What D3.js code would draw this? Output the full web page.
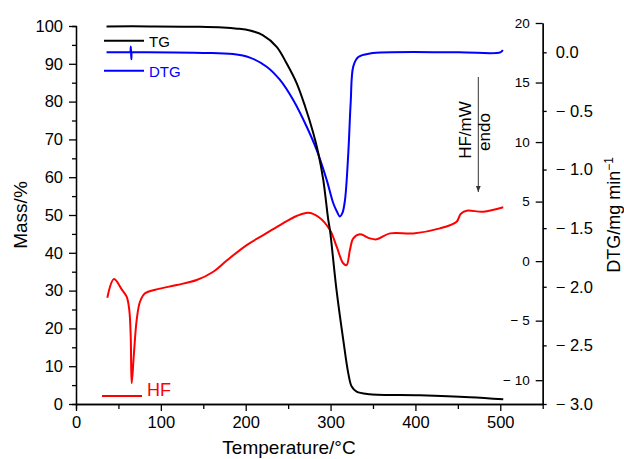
<!DOCTYPE html>
<html>
<head>
<meta charset="utf-8">
<script src="https://cdn.jsdelivr.net/npm/d3@7"></script>
<style>
  body { margin: 0; background: #fff; }
  svg { font-family: "Liberation Sans", Arial, sans-serif; }
  .axis path, .axis line { stroke: #000; stroke-width: 1.3px; }
  .curve { fill: none; stroke-width: 2px; stroke-linejoin: round; }
</style>
</head>
<body>
<script>
// TG (mass %) vs temperature
var tgTemp = [36, 87, 146, 173, 190, 205, 220, 236.5, 248, 260, 270, 279.6, 285.5, 291.4, 297.3, 299.3, 307, 315, 320.9, 324.9, 330.7, 346.4, 405, 464, 503.5];
var tgMass = [99.9, 99.9, 99.8, 99.6, 99.3, 98.8, 97.6, 94.5, 90.2, 84.9, 78.7, 71.7, 66.4, 59.3, 48.7, 46.0, 30.2, 16.9, 8.1, 4.6, 3.25, 2.6, 2.3, 1.8, 1.25];

// DTG (mg/min)
var dtgTemp = [36, 50, 63.5, 64, 64.6, 65.2, 65.8, 66.3, 80, 150, 185, 205, 224.7, 240.4, 256, 271.9, 283.7, 295.5, 303.3, 307.6, 311, 314, 317, 320.9, 323.7, 326.8, 332.7, 346.5, 450, 500, 503];
var dtgVal = [0.0, 0.0, 0.0, 0.0, 0.05, -0.06, 0.0, 0.0, 0.0, -0.005, -0.015, -0.045, -0.123, -0.236, -0.407, -0.635, -0.834, -1.09, -1.29, -1.36, -1.40, -1.37, -1.26, -0.86, -0.43, -0.12, -0.04, -0.01, 0.0, 0.0, 0.02];

// HF (mW)
var hfTemp = [36.9, 44.8, 53.9, 59.7, 62.8, 64.5, 65.6, 68.3, 71.5, 75.4, 81.3, 95.1, 118.7, 142.2, 161.8, 177.6, 201.2, 220.7, 240.4, 260, 273.7, 285.5, 299.3, 307.2, 314.9, 318.9, 322.8, 326.8, 334.6, 346.4, 354.3, 370, 397.5, 428.9, 448.6, 453.3, 460.4, 480, 503.5];
var hfVal = [-3.07, -1.5, -2.37, -2.99, -4.11, -6.35, -10.26, -7.74, -4.95, -3.41, -2.7, -2.37, -2.01, -1.59, -0.89, 0.05, 1.35, 2.19, 3.03, 3.79, 4.07, 3.73, 2.62, 1.21, -0.18, -0.33, 0.93, 1.91, 2.25, 1.91, 1.83, 2.33, 2.33, 2.75, 3.31, 3.96, 4.23, 4.15, 4.52];

var tempTicks = [0, 100, 200, 300, 400, 500];
var massTicks = [0, 10, 20, 30, 40, 50, 60, 70, 80, 90, 100];
var hfTicks = [-10, -5, 0, 5, 10, 15, 20];
var dtgTicks = [0.0, -0.5, -1.0, -1.5, -2.0, -2.5, -3.0];

var width = 624,
    height = 459;

var svg = d3.select("body")
    .append("svg")
    .attr("width", width)
    .attr("height", height);

var xScale = d3.scaleLinear().domain([0, 550]).range([76, 542.7]);
var yMass = d3.scaleLinear().domain([0, 100]).range([404, 26]);
var yHF = d3.scaleLinear().domain([-12, 20]).range([404, 23]);
var yDTG = d3.scaleLinear().domain([-3.0, 0.25]).range([404, 23]);

function minusFmt(d) {
    return d < 0 ? "\u2212 " + Math.abs(d) : String(d);
}

// bottom axis
svg.append("g")
    .attr("class", "axis")
    .attr("transform", "translate(0,404)")
    .call(d3.axisBottom(xScale).tickValues(d3.range(50, 550, 100)).tickSize(5).tickFormat(""));
svg.append("g")
    .attr("class", "axis")
    .attr("transform", "translate(0,404)")
    .call(d3.axisBottom(xScale).tickValues(tempTicks).tickSize(7).tickSizeOuter(0).tickPadding(5))
    .selectAll("text")
    .style("font-size", "16.5px");

// left axis
svg.append("g")
    .attr("class", "axis")
    .attr("transform", "translate(76,0)")
    .call(d3.axisLeft(yMass).tickValues(d3.range(5, 100, 10)).tickSize(4).tickFormat(""));
svg.append("g")
    .attr("class", "axis")
    .attr("transform", "translate(76,0)")
    .call(d3.axisLeft(yMass).tickValues(massTicks).tickSize(7).tickSizeOuter(0).tickPadding(6))
    .selectAll("text")
    .style("font-size", "16.5px");

// right axes (HF inside, DTG outside)
svg.append("g")
    .attr("class", "axis")
    .attr("transform", "translate(542.7,0)")
    .call(d3.axisLeft(yHF).tickValues(hfTicks).tickSize(7).tickSizeOuter(0).tickPadding(6).tickFormat(minusFmt))
    .selectAll("text")
    .style("font-size", "13.5px");
svg.append("g")
    .attr("class", "axis")
    .attr("transform", "translate(542.7,0)")
    .call(d3.axisRight(yDTG).tickValues(dtgTicks).tickSize(4).tickSizeOuter(0).tickPadding(9)
        .tickFormat(function(d) { return d < 0 ? "\u2212 " + d3.format(".1f")(-d) : d3.format(".1f")(d); }))
    .selectAll("text")
    .style("font-size", "16.5px");

// curves
var tgLine = d3.line()
    .x(function(d, i) { return xScale(tgTemp[i]); })
    .y(function(d) { return yMass(d); })
    .curve(d3.curveCatmullRom.alpha(0.5));
var dtgLine = d3.line()
    .x(function(d, i) { return xScale(dtgTemp[i]); })
    .y(function(d) { return yDTG(d); })
    .curve(d3.curveCatmullRom.alpha(0.5));
var hfLine = d3.line()
    .x(function(d, i) { return xScale(hfTemp[i]); })
    .y(function(d) { return yHF(d); })
    .curve(d3.curveCatmullRom.alpha(0.5));

svg.append("path").attr("class", "curve").attr("stroke", "#ff0000").attr("d", hfLine(hfVal));
svg.append("path").attr("class", "curve").attr("stroke", "#0000ff").attr("d", dtgLine(dtgVal));
svg.append("path").attr("class", "curve").attr("stroke", "#000").attr("d", tgLine(tgMass));

// legend
var legend = [
    { name: "TG", color: "#000", x: 104, y: 40.7, size: 15 },
    { name: "DTG", color: "#0000ff", x: 104, y: 70.7, size: 15 },
    { name: "HF", color: "#ff0000", x: 102, y: 396, size: 18 }
];
legend.forEach(function(l) {
    svg.append("line")
        .attr("x1", l.x).attr("x2", l.x + 40)
        .attr("y1", l.y).attr("y2", l.y)
        .attr("stroke", l.color).attr("stroke-width", 2);
    svg.append("text")
        .attr("x", l.x + 45).attr("y", l.y + (l.size === 18 ? 0 : 6))
        .attr("fill", l.color)
        .style("font-size", l.size + "px")
        .text(l.name);
});

// HF annotation with arrow
svg.append("defs").append("marker")
    .attr("id", "arr")
    .attr("viewBox", "0 0 10 10")
    .attr("refX", 10).attr("refY", 5)
    .attr("markerWidth", 6).attr("markerHeight", 6)
    .attr("orient", "auto")
    .append("path").attr("d", "M0,1 L10,5 L0,9 z").attr("fill", "#333");
svg.append("line")
    .attr("x1", 478.3).attr("x2", 478.3)
    .attr("y1", 77).attr("y2", 192)
    .attr("stroke", "#333").attr("stroke-width", 1)
    .attr("marker-end", "url(#arr)");
svg.append("text")
    .attr("transform", "translate(471,130) rotate(-90)")
    .attr("text-anchor", "middle")
    .style("font-size", "17px")
    .text("HF/mW");
svg.append("text")
    .attr("transform", "translate(490,132) rotate(-90)")
    .attr("text-anchor", "middle")
    .style("font-size", "17px")
    .text("endo");

// axis titles
svg.append("text")
    .attr("transform", "translate(27,215) rotate(-90)")
    .attr("text-anchor", "middle")
    .style("font-size", "19px")
    .text("Mass/%");
svg.append("text")
    .attr("x", 289).attr("y", 454)
    .attr("text-anchor", "middle")
    .style("font-size", "19px")
    .text("Temperature/\u00b0C");
var dtgTitle = svg.append("text")
    .attr("transform", "translate(620,215) rotate(-90)")
    .attr("text-anchor", "middle")
    .style("font-size", "18px");
dtgTitle.append("tspan").text("DTG/mg min");
dtgTitle.append("tspan").attr("dy", -7).style("font-size", "12px").text("\u22121");
</script>
</body>
</html>
